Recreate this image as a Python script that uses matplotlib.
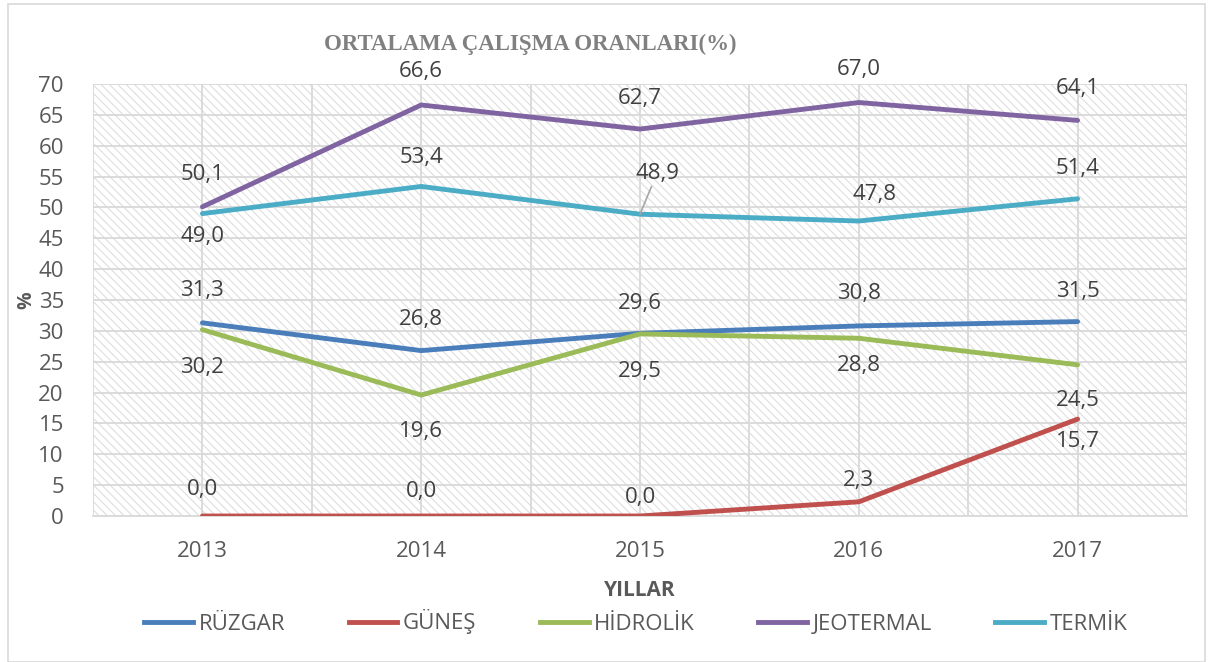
import matplotlib
matplotlib.use("Agg")
import matplotlib.pyplot as plt
from matplotlib.patches import Rectangle
from matplotlib.lines import Line2D
import numpy as np

# Data
years = ["2013", "2014", "2015", "2016", "2017"]
ruzgar = [31.3, 26.8, 29.6, 30.8, 31.5]
gunes = [0.0, 0.0, 0.0, 2.3, 15.7]
hidrolik = [30.2, 19.6, 29.5, 28.8, 24.5]
jeotermal = [50.1, 66.6, 62.7, 67.0, 64.1]
termik = [49.0, 53.4, 48.9, 47.8, 51.4]
series_names = ["RÜZGAR", "GÜNEŞ", "HİDROLİK", "JEOTERMAL", "TERMİK"]

# Excel style colours
colors = ["#4A7EBB", "#C0504D", "#9BBB59", "#8064A2", "#4BACC6"]

# Label offsets (pixels, dx, dy) for each point of each series
label_offsets = [
    [(0, 32), (0, 31), (0, 30), (0, 32), (0, 30)],
    [(0, 27), (0, 24), (0, 19), (0, 21), (0, -22)],
    [(0, -38), (0, -36), (0, -38), (0, -27), (0, -36)],
    [(0, 32), (0, 33), (0, 31), (0, 33), (0, 32)],
    [(0, -23), (0, 29), (17, 41), (16, 27), (0, 30)],
]

W, H = 1208, 662
fig = plt.figure(figsize=(W / 100, H / 100), dpi=100)
plt.rcParams['hatch.linewidth'] = 0.7

# chart border
fig.patches.append(Rectangle((8 / W, 0.5 / H), 1197 / W, 658 / H, transform=fig.transFigure,
                             facecolor='none', edgecolor='#d9d9d9', lw=1.2))

ax = fig.add_axes([93 / W, 1 - 516 / H, (1187 - 93) / W, (516 - 84) / H])
ax.set_facecolor('white')
ax.add_patch(Rectangle((0, 0), 1, 1, transform=ax.transAxes, facecolor='white',
                       edgecolor='#dadada', hatch='\\\\\\\\', lw=0, zorder=0))

x = np.arange(len(years))
all_series = [ruzgar, gunes, hidrolik, jeotermal, termik]
for vals, c in zip(all_series, colors):
    ax.plot(x, vals, color=c, lw=3.5, solid_capstyle='round', zorder=3)

font = "Open Sans"
for vals, offs in zip(all_series, label_offsets):
    for xi, v, (dx, dy) in zip(x, vals, offs):
        txt = f"{v:.1f}".replace(".", ",")
        kw = {}
        if dx > 10 and dy > 35:
            kw['arrowprops'] = dict(arrowstyle='-', color='#a6a6a6', lw=1.2, shrinkA=0, shrinkB=0)
        ax.annotate(txt, (xi, v), xytext=(dx, dy), textcoords='offset pixels',
                    ha='center', va='center', fontsize=16, family=font, color='#404040',
                    zorder=4, **kw)

ax.set_xlim(-0.5, len(years) - 0.5)
ax.set_ylim(0, 70)
ax.set_yticks(np.arange(0, 71, 5))
ax.set_xticks(x)
ax.set_xticklabels(years)
ax.set_xticks(np.arange(-0.5, len(years), 1), minor=True)
ax.set_axisbelow(True)
ax.grid(axis='y', color='#d9d9d9', lw=1.3)
ax.grid(axis='x', which='both', color='#d9d9d9', lw=1.3)
for s in ['top', 'right', 'left']:
    ax.spines[s].set_visible(False)
ax.spines['bottom'].set_color('#d9d9d9')
ax.spines['bottom'].set_linewidth(1.3)
ax.tick_params(axis='both', which='both', length=0, labelsize=16, labelcolor='#595959')
ax.tick_params(axis='y', pad=21)
ax.tick_params(axis='x', pad=18)
for lab in ax.get_xticklabels() + ax.get_yticklabels():
    lab.set_family(font)

fig.text(26 / W, 1 - 300 / H, "%", ha='center', va='center', rotation=90, fontsize=14,
         fontweight='bold', family=font, color='#595959')
fig.text(640 / W, 1 - 590 / H, "YILLAR", ha='center', va='center', fontsize=15,
         fontweight='bold', family=font, color='#595959')

fig.text(530 / W, 1 - 44 / H, "ORTALAMA ÇALIŞMA ORANLARI(%)", ha='center', va='center',
         fontsize=16.5, fontweight='bold', family='Liberation Serif', color='#808080')

handles = [Line2D([], [], color=c, lw=3.5) for c in colors]
leg = fig.legend(handles, series_names, loc='center', bbox_to_anchor=(636 / W, 1 - 622 / H),
                 ncol=5, frameon=False, handlelength=2.2, handletextpad=0.25, columnspacing=2.85,
                 prop={'family': font, 'size': 16})
for t in leg.get_texts():
    t.set_color('#595959')

fig.savefig("out.png", dpi=100)
